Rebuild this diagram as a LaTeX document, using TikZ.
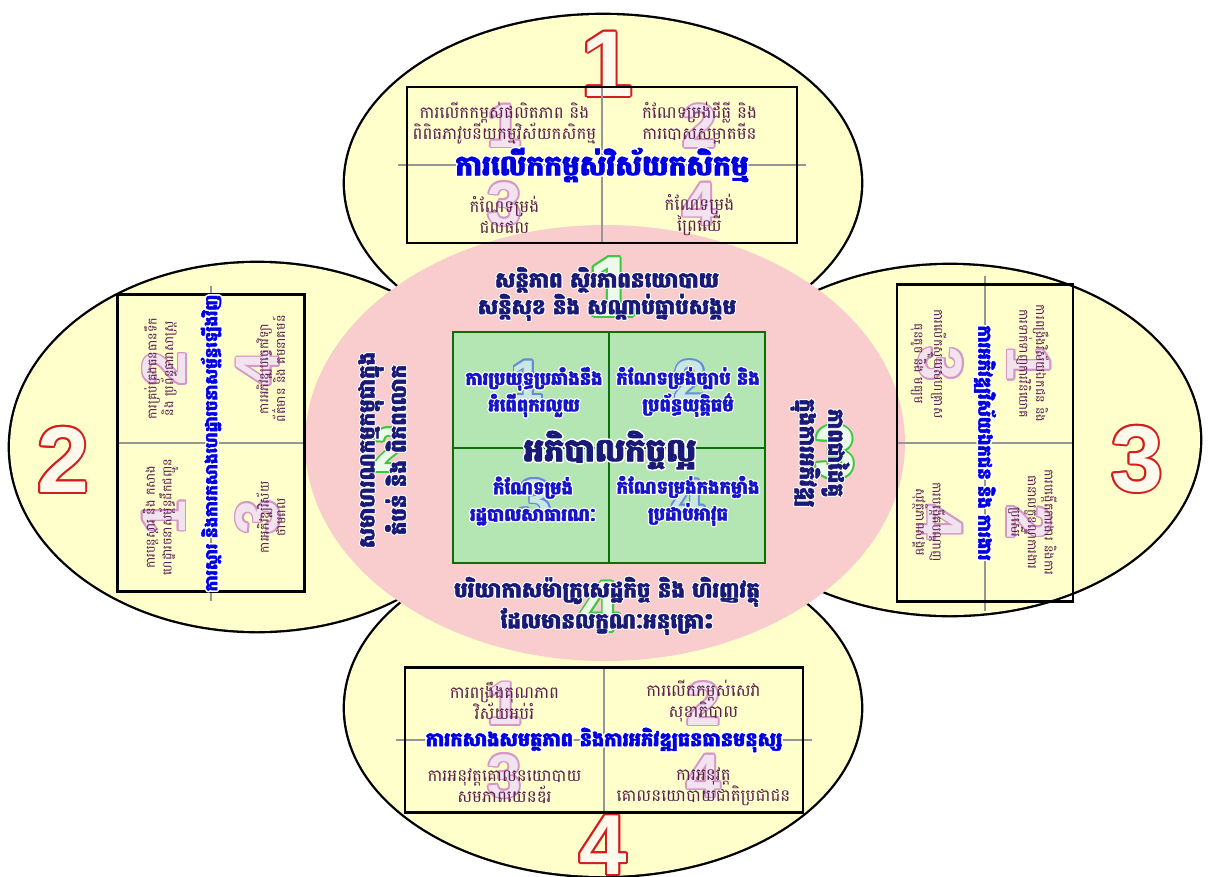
\documentclass[tikz,border=0pt]{standalone}
\usepackage{fontspec}
\setmainfont{Liberation Sans}
\newfontfamily\khmer[Script=Khmer,BoldFeatures={FakeBold=2.5}]{Battambang}
\newfontfamily\numfont{Liberation Sans}
\definecolor{petal}{RGB}{255,255,204}
\definecolor{ring}{RGB}{249,204,206}
\definecolor{core}{RGB}{180,230,180}
\definecolor{coreedge}{RGB}{10,110,10}
\definecolor{divgray}{RGB}{150,150,150}
\definecolor{subtxt}{RGB}{90,30,80}
\definecolor{hdrblue}{RGB}{0,0,225}
\definecolor{navy}{RGB}{25,25,120}
\definecolor{coreblue}{RGB}{20,20,200}
\definecolor{rednum}{RGB}{210,30,30}
\definecolor{rednumfill}{RGB}{255,250,235}
\definecolor{pinknum}{RGB}{215,150,200}
\definecolor{pinknumfill}{RGB}{242,228,238}
\definecolor{bluenum}{RGB}{100,140,220}
\definecolor{bluenumfill}{RGB}{200,232,225}
\definecolor{greennum}{RGB}{60,200,60}
\definecolor{greennumfill}{RGB}{236,250,236}
% outlined text: #1 name, #2 position, #3 options, #4 outline colour, #5 radius, #6 text
\newcommand\outl[6]{%
  \foreach \oa in {0,30,...,330}{\node[#3,text=#4,shift={(\oa:#5)}] at (#2) {#6};}
  \node[#3] (#1) at (#2) {#6};}
% #1 prefix, #2 scope options, #3 W, #4 H, #5 header, #6-#9 cells
\newcommand\rectblock[9]{%
 \begin{scope}[#2]
  \pgfmathsetmacro\hw{#3/2}\pgfmathsetmacro\hh{#4/2}
  \pgfmathsetmacro\qw{#3/4}\pgfmathsetmacro\qh{#4/4}
  \pgfmathsetmacro\ut{-\qh-0.02*#4}\pgfmathsetmacro\lt{\qh+0.07*#4}
  \draw[divline] (0,-\hh) -- (0,\hh);
  \draw[divline] (-\hw-9,0) -- (\hw+9,0);
  \draw[boxline] (-\hw,-\hh) rectangle (\hw,\hh);
  \outl{#1n1}{-\qw,-\qh}{wnum}{pinknum}{1.6}{1}
  \outl{#1n2}{\qw,-\qh}{wnum}{pinknum}{1.6}{2}
  \outl{#1n3}{-\qw,\qh}{wnum}{pinknum}{1.6}{3}
  \outl{#1n4}{\qw,\qh}{wnum}{pinknum}{1.6}{4}
  \node[subtext] (#1c1) at (-\qw,\ut) {#6};
  \node[subtext] (#1c2) at (\qw,\ut) {#7};
  \node[subtext] (#1c3) at (-\qw,\lt) {#8};
  \node[subtext] (#1c4) at (\qw,\lt) {#9};
  \outl{#1h}{0,0}{hdrtext}{white}{1.5}{#5}
 \end{scope}}
\begin{document}
\begin{tikzpicture}[x=0.75pt,y=-0.75pt,
  petalline/.style={line width=3.5pt,draw=black},
  divline/.style={line width=1.4pt,draw=divgray},
  boxline/.style={line width=1.8pt,draw=black},
  subfont/.style 2 args={inner sep=0pt,align=center,text=subtxt,font=\khmer\fontsize{#1}{#2}\selectfont},
  hdrfont/.style={inner sep=0pt,align=center,text=hdrblue,font=\khmer\bfseries\fontsize{#1}{#1}\selectfont},
  subtext/.style={subfont={12.5}{16}},
  hdrtext/.style={hdrfont=14},
  wnum/.style={inner sep=0pt,text=pinknumfill,font=\numfont\bfseries\fontsize{46}{46}\selectfont},
  redn/.style={inner sep=0pt,text=rednumfill,font=\numfont\bfseries\fontsize{#1}{#1}\selectfont},
  greenn/.style={inner sep=0pt,text=greennumfill,font=\numfont\bfseries\fontsize{#1}{#1}\selectfont},
  bluen/.style={inner sep=0pt,text=bluenumfill,font=\numfont\bfseries\fontsize{44}{44}\selectfont},
  ringtext/.style={inner sep=0pt,align=center,text=navy,font=\khmer\bfseries\fontsize{16}{19}\selectfont},
  centertext/.style={inner sep=0pt,align=center,text=navy,font=\khmer\bfseries\fontsize{24}{26}\selectfont},
  coretext/.style={inner sep=0pt,align=center,text=coreblue,font=\khmer\bfseries\fontsize{13.5}{20}\selectfont}]
\useasboundingbox (0,0) rectangle (1208,876);
\fill[white] (0,0) rectangle (1208,876);
% petals: outlines first, then fills
\draw[petalline] (603,183) ellipse [x radius=193.5pt, y radius=126pt];
\draw[petalline] (257,447) ellipse [x radius=185.25pt, y radius=138pt];
\draw[petalline] (950,440) ellipse [x radius=187.5pt, y radius=131.25pt];
\draw[petalline] (603,708) ellipse [x radius=193.5pt, y radius=126pt];
\fill[petal] (603,183) ellipse [x radius=193.5pt, y radius=126pt];
\fill[petal] (257,447) ellipse [x radius=185.25pt, y radius=138pt];
\fill[petal] (950,440) ellipse [x radius=187.5pt, y radius=131.25pt];
\fill[petal] (603,708) ellipse [x radius=193.5pt, y radius=126pt];
% pink ring
\fill[ring] (605,443) ellipse [x radius=225pt, y radius=163.5pt];
% core
\fill[core] (453,332) rectangle (765,563);
\draw[coreedge,line width=1.6pt] (609,332) -- (609,563);
\draw[coreedge,line width=1.6pt] (453,448) -- (765,448);
\draw[coreedge,line width=2.2pt] (453,332) rectangle (765,563);
% red petal numbers
\outl{R1}{607,64}{redn=70}{rednum}{2}{1}
\outl{R2}{63,460}{redn=70}{rednum}{2}{2}
\outl{R3}{1137,459}{redn=70}{rednum}{2}{3}
\outl{R4}{603,845}{redn=64}{rednum}{2}{4}
% green ring numbers
\outl{G1}{612,287}{greenn=64}{greennum}{1.8}{1}
\outl{G2}{390,450}{greenn=46}{greennum}{1.8}{2}
\outl{G3}{835,452}{greenn=56}{greennum}{1.8}{3}
\outl{G4}{600,607}{greenn=54}{greennum}{1.8}{4}
% blue core numbers
\outl{B1}{527,381}{bluen}{bluenum}{1.6}{1}
\outl{B2}{690,381}{bluen}{bluenum}{1.6}{2}
\outl{B3}{535,500}{bluen}{bluenum}{1.6}{3}
\outl{B4}{688,500}{bluen}{bluenum}{1.6}{4}
% rectangles
\rectblock{T}{shift={(602,165)},hdrtext/.style={hdrfont=21}}{390}{156}{ការលើកកម្ពស់វិស័យកសិកម្ម}
  {ការលើកកម្ពស់ផលិតភាព និង\\ពិពិធភាវូបនីយកម្មវិស័យកសិកម្ម}
  {កំណែទម្រង់ដីធ្លី និង\\ការបោសសម្អាតមីន}
  {កំណែទម្រង់\\ជលផល}
  {កំណែទម្រង់\\ព្រៃឈើ}
\rectblock{D}{shift={(604,740)},hdrtext/.style={hdrfont=14.5}}{398}{145}{ការកសាងសមត្ថភាព និងការអភិវឌ្ឍធនធានមនុស្ស}
  {ការពង្រឹងគុណភាព\\វិស័យអប់រំ}
  {ការលើកកម្ពស់សេវា\\សុខាភិបាល}
  {ការអនុវត្តគោលនយោបាយ\\សមភាពយេនឌ័រ}
  {ការអនុវត្ត\\គោលនយោបាយជាតិប្រជាជន}
\rectblock{L}{shift={(211,443)},rotate=90,transform shape,
   subtext/.style={subfont={9.5}{12.5}},hdrtext/.style={hdrfont=12.5}}
  {297}{187}{ការស្តារ និងការកសាងហេដ្ឋារចនាសម្ព័ន្ធឡើងវិញ}
  {ការបន្តស្តារ និង កសាង\\ហេដ្ឋារចនាសម្ព័ន្ធដឹកជញ្ជូន}
  {ការគ្រប់គ្រងធនធានទឹក\\និង ប្រព័ន្ធធារាសាស្ត្រ}
  {ការអភិវឌ្ឍវិស័យ\\ថាមពល}
  {ការអភិវឌ្ឍបច្ចេកវិទ្យា\\ព័ត៌មាន និង គមនាគមន៍}
\rectblock{Q}{shift={(985,443)},rotate=-90,transform shape,
   subtext/.style={subfont={9.5}{12.5}},hdrtext/.style={hdrfont=13.5}}
  {317}{176}{ការអភិវឌ្ឍវិស័យឯកជន និង ការងារ}
  {ការពង្រឹងវិស័យឯកជន និង\\ការទាក់ទាញការវិនិយោគ}
  {ការបង្កើតការងារ និងការ\\ធានាលក្ខខណ្ឌការងារ\\ប្រសើរ}
  {ការលើកស្ទួយសហគ្រាស\\ធុនតូច និង មធ្យម}
  {ការបង្កើតបណ្តាញ\\សុវត្ថិភាពសង្គម}
% ring texts
\outl{ringT}{607,294}{ringtext}{white}{1}{សន្តិភាព ស្ថិរភាពនយោបាយ\\សន្តិសុខ និង សណ្តាប់ធ្នាប់សង្គម}
\outl{ringB}{607,606}{ringtext}{white}{1}{បរិយាកាសម៉ាក្រូសេដ្ឋកិច្ច និង ហិរញ្ញវត្ថុ\\ដែលមានលក្ខណៈអនុគ្រោះ}
\outl{ringL}{382,450}{ringtext,rotate=90}{white}{1}{សមាហរណកម្មកម្ពុជាក្នុង\\តំបន់ និង ពិភពលោក}
\outl{ringR}{820,453}{ringtext,rotate=-90}{white}{1}{ភាពជាដៃគូ\\ក្នុងការអភិវឌ្ឍ}
% core texts
\outl{good}{610,450}{centertext}{white}{1.5}{អភិបាលកិច្ចល្អ}
\outl{k1}{534,392}{coretext}{white}{1.2}{ការប្រយុទ្ធប្រឆាំងនឹង\\អំពើពុករលួយ}
\outl{k2}{688,392}{coretext}{white}{1.2}{កំណែទម្រង់ច្បាប់ និង\\ប្រព័ន្ធយុត្តិធម៌}
\outl{k3}{533,501}{coretext}{white}{1.2}{កំណែទម្រង់\\រដ្ឋបាលសាធារណៈ}
\outl{k4}{688,501}{coretext}{white}{1.2}{កំណែទម្រង់កងកម្លាំង\\ប្រដាប់អាវុធ}
\end{tikzpicture}
\end{document}
